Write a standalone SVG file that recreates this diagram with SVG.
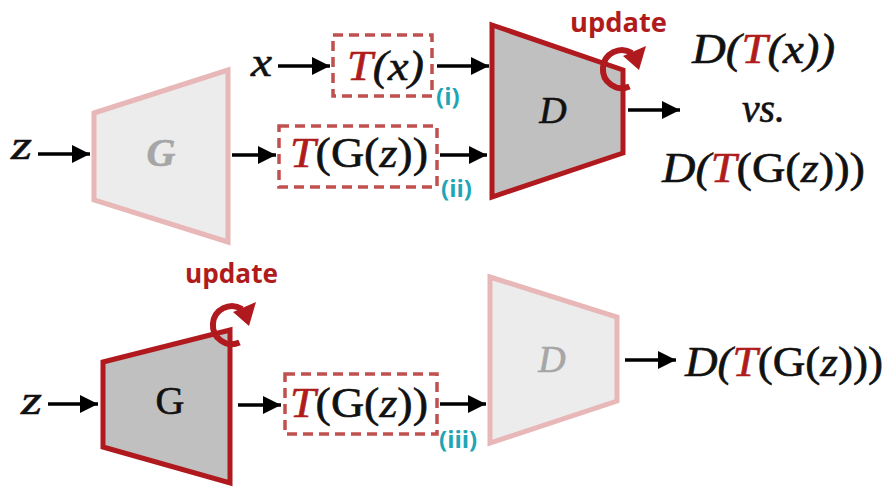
<svg xmlns="http://www.w3.org/2000/svg" width="889" height="489" viewBox="0 0 889 489">
<defs>
<style>
.math{font-family:"Liberation Serif","Times New Roman",serif;font-style:italic;fill:#111;stroke:#111;stroke-width:0.6}
.up{font-style:normal}
.red{fill:#b01c1c;stroke:#b01c1c}
.gry{fill:#a6a6a6;stroke:#a6a6a6}
.upd{font-family:"Open Sans","Liberation Sans",sans-serif;font-weight:700;font-size:26px;fill:#b01c1c}
.lbl{font-family:"Open Sans","Liberation Sans",sans-serif;font-weight:700;font-size:24px;fill:#1fa5b5}
.dark{fill:#c0c0c0;stroke:#b0191e;stroke-width:5;stroke-linejoin:miter}
.light{fill:#ececec;stroke:#e8b7b7;stroke-width:5;stroke-linejoin:miter}
.dash{fill:none;stroke:#c0504d;stroke-width:3.5;stroke-dasharray:10 6}
.conn line{stroke:#000;stroke-width:3.5;marker-end:url(#ah)}
.cyc{fill:none;stroke:#b0191e;stroke-width:6}
</style>
<marker id="ah" markerUnits="userSpaceOnUse" markerWidth="20" markerHeight="18" refX="18" refY="9" orient="auto">
<path d="M0,0 L18,9 L0,18 z" fill="#000"/>
</marker>
</defs>
<rect width="889" height="489" fill="#fff"/>

<g id="G_top">
<polygon class="light" points="94,113 228,70 228,242 94,200"/>
<text class="math gry" x="161" y="166" font-size="40" font-weight="700" text-anchor="middle">G</text>
</g>
<g id="D_top">
<polygon class="dark" points="492,25 623,70 623,153 492,197"/>
<text class="math" x="553" y="123" font-size="38" text-anchor="middle">D</text>
<path class="cyc" d="M629.5,86.5 A19,19 0 1 1 632,53"/>
<polygon fill="#b0191e" points="623,56 646,46 639,70"/>
<text class="upd" x="570" y="32" textLength="97" lengthAdjust="spacingAndGlyphs">update</text>
</g>
<g id="G_bot">
<polygon class="dark" points="103,362 230,330 230,483 103,447"/>
<text class="math up" x="170" y="414" font-size="40" text-anchor="middle">G</text>
<path class="cyc" d="M239.5,342.5 A19,19 0 1 1 242,309"/>
<polygon fill="#b0191e" points="233,312 256,302 249,326"/>
<text class="upd" x="185" y="283" textLength="93" lengthAdjust="spacingAndGlyphs">update</text>
</g>
<g id="D_bot">
<polygon class="light" points="490,277 617,317 617,401 490,443"/>
<text class="math gry" x="552" y="372" font-size="38" text-anchor="middle">D</text>
</g>

<g id="Tx">
<rect class="dash" x="333" y="35" width="99" height="61"/>
<text class="math" x="347" y="80" font-size="42" textLength="77" lengthAdjust="spacingAndGlyphs"><tspan class="red">T</tspan>(x)</text>
</g>
<g id="TGz_top">
<rect class="dash" x="279" y="126" width="158" height="61"/>
<text class="math" x="290" y="167" font-size="42" textLength="138" lengthAdjust="spacingAndGlyphs"><tspan class="red">T</tspan><tspan class="up">(G(</tspan>z<tspan class="up">))</tspan></text>
</g>
<g id="TGz_bot">
<rect class="dash" x="285" y="374" width="152" height="60"/>
<text class="math" x="290" y="417" font-size="42" textLength="138" lengthAdjust="spacingAndGlyphs"><tspan class="red">T</tspan><tspan class="up">(G(</tspan>z<tspan class="up">))</tspan></text>
</g>

<g id="inputs">
<text class="math" x="251" y="76" font-size="42" textLength="21" lengthAdjust="spacingAndGlyphs">x</text>
<text class="math" x="11" y="159" font-size="42" textLength="21" lengthAdjust="spacingAndGlyphs">z</text>
<text class="math" x="21" y="414" font-size="42" textLength="21" lengthAdjust="spacingAndGlyphs">z</text>
</g>

<g id="outputs">
<text class="math" x="692" y="63" font-size="42" textLength="143" lengthAdjust="spacingAndGlyphs">D(<tspan class="red">T</tspan>(x))</text>
<text class="math" x="742" y="122" font-size="40" textLength="43" lengthAdjust="spacingAndGlyphs">vs.</text>
<text class="math" x="662" y="182" font-size="42" textLength="203" lengthAdjust="spacingAndGlyphs">D(<tspan class="red">T</tspan><tspan class="up">(G(</tspan>z<tspan class="up">)))</tspan></text>
<text class="math" x="685" y="376" font-size="42" textLength="198" lengthAdjust="spacingAndGlyphs">D(<tspan class="red">T</tspan><tspan class="up">(G(</tspan>z<tspan class="up">)))</tspan></text>
</g>

<g id="labels">
<text class="lbl" x="436" y="105">(i)</text>
<text class="lbl" x="441" y="197">(ii)</text>
<text class="lbl" x="439" y="448">(iii)</text>
</g>

<g id="connectors" class="conn">
<line x1="38" y1="154" x2="90" y2="154"/>
<line x1="278" y1="66" x2="330" y2="66"/>
<line x1="437" y1="66" x2="489" y2="66"/>
<line x1="232" y1="155" x2="276" y2="155"/>
<line x1="440" y1="155" x2="487" y2="155"/>
<line x1="628" y1="110" x2="680" y2="110"/>
<line x1="48" y1="404" x2="98" y2="404"/>
<line x1="238" y1="405" x2="281" y2="405"/>
<line x1="440" y1="404" x2="486" y2="404"/>
<line x1="625" y1="360" x2="676" y2="360"/>
</g>
</svg>
